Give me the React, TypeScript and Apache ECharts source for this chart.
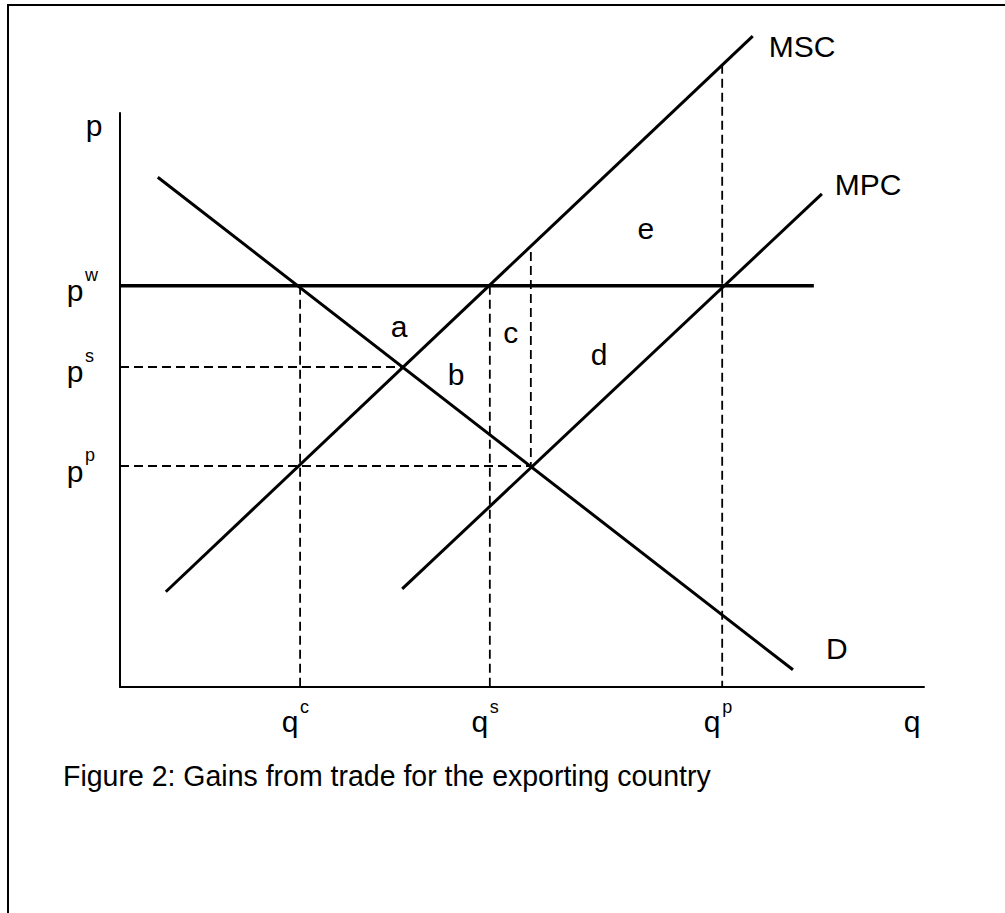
import React, { useEffect, useRef } from "react";
import * as echarts from "echarts";

// Axis extents (arbitrary quantity / price units)
const Q_MAX = 100;
const P_MAX = 100;

// Quantity and price levels
const quantityLevels = [22.4, 46.0, 51.1, 74.9]; // qc, qs, (gap line), qp
const priceLevels = [69.9, 55.75, 38.5]; // pw, ps, pp

// Curves (two end points each)
const demandCurve = [[4.7, 88.8], [83.7, 3.0]];
const mscCurve = [[5.7, 16.6], [78.7, 113.4]];
const mpcCurve = [[35.1, 17.1], [87.3, 85.9]];
const worldPrice = [[0, 69.9], [86.3, 69.9]];

// Dashed guide segments
const guides = [
  [[22.4, 69.9], [22.4, 0]],
  [[46.0, 69.9], [46.0, 0]],
  [[51.1, 75.8], [51.1, 38.5]],
  [[74.9, 108.4], [74.9, 0]],
  [[0, 55.75], [35.2, 55.75]],
  [[0, 38.5], [51.1, 38.5]],
];

// Labels
const pLabels = [
  { base: "p", sup: "w" },
  { base: "p", sup: "s" },
  { base: "p", sup: "p" },
];
const qLabels = [
  { base: "q", sup: "c", idx: 0 },
  { base: "q", sup: "s", idx: 1 },
  { base: "q", sup: "p", idx: 3 },
];
const curveLabels = [
  { text: "MSC", q: 80.7, p: 111.6 },
  { text: "MPC", q: 88.9, p: 87.5 },
  { text: "D", q: 87.8, p: 6.7 },
];
const areaLabels = [
  { text: "a", q: 34.7, p: 62.8 },
  { text: "b", q: 41.8, p: 54.4 },
  { text: "c", q: 48.6, p: 61.8 },
  { text: "d", q: 59.6, p: 57.9 },
  { text: "e", q: 65.4, p: 79.9 },
];
const caption = "Figure 2: Gains from trade for the exporting country";

const FONT = '"Liberation Sans", Arial, sans-serif';

export default function App() {
  const ref = useRef<HTMLDivElement>(null);
  useEffect(() => {
    if (!ref.current) return;
    const chart = echarts.init(ref.current, null, { renderer: "svg" });

    const lineSeries = (data: number[][], width: number, dashed = false) => ({
      type: "line",
      data,
      symbol: "none",
      clip: false,
      silent: true,
      z: dashed ? 2 : 3,
      lineStyle: {
        color: "#000",
        width,
        type: dashed ? [9, 5] : "solid",
        cap: "butt",
      },
    });

    const axisCommon = {
      type: "value",
      axisLine: { show: true, onZero: false, lineStyle: { color: "#000", width: 2 } },
      axisTick: { show: false },
      axisLabel: { show: false },
      splitLine: { show: false },
    };

    chart.setOption({
      animation: false,
      backgroundColor: "#fff",
      grid: { left: 120, top: 113, right: 81, bottom: 226 },
      xAxis: { ...axisCommon, min: 0, max: Q_MAX },
      yAxis: { ...axisCommon, min: 0, max: P_MAX },
      series: [
        lineSeries(demandCurve, 3),
        lineSeries(mscCurve, 3),
        lineSeries(mpcCurve, 3),
        lineSeries(worldPrice, 3.5),
        ...guides.map((g) => lineSeries(g, 1.8, true)),
      ],
    });

    const px = (q: number, p: number) =>
      chart.convertToPixel({ gridIndex: 0 }, [q, p]) as number[];

    const text = (
      t: string,
      x: number,
      y: number,
      size: number,
      align = "center",
      extra: any = {}
    ) => ({
      type: "text",
      x,
      y,
      z: 10,
      silent: true,
      ...extra,
      style: {
        text: t,
        fontSize: size,
        fontFamily: FONT,
        fill: "#000",
        align,
        verticalAlign: "middle",
      },
    });

    const els: any[] = [];
    // frame
    els.push({
      type: "rect",
      shape: { x: 8, y: 5, width: 1300, height: 1300 },
      style: { fill: "none", stroke: "#000", lineWidth: 2 },
      z: 10,
      silent: true,
    });
    const origin = px(0, 0);
    const top = px(0, P_MAX);
    const right = px(Q_MAX, 0);
    // axis titles
    els.push(text("p", top[0] - 26, top[1] + 12, 30));
    els.push(text("q", right[0] - 12, origin[1] + 34, 30));
    // price labels
    pLabels.forEach((l, i) => {
      const y = px(0, priceLevels[i])[1];
      els.push(text(l.base, origin[0] - 45, y + 5, 30));
      els.push(text(l.sup, origin[0] - 35, y - 11, 18, "left"));
    });
    // quantity labels
    qLabels.forEach((l) => {
      const x = px(quantityLevels[l.idx], 0)[0];
      els.push(text(l.base, x - 10, origin[1] + 34, 30));
      els.push(text(l.sup, x, origin[1] + 20, 18, "left"));
    });
    curveLabels.forEach((l) => {
      const [x, y] = px(l.q, l.p);
      els.push(text(l.text, x, y, 30, "left"));
    });
    areaLabels.forEach((l) => {
      const [x, y] = px(l.q, l.p);
      els.push(text(l.text, x, y, 30));
    });
    els.push(text(caption, 60, 776, 30, "left", { scaleX: 0.95, originX: 60, originY: 776 }));

    chart.setOption({ graphic: { elements: els } });

    return () => chart.dispose();
  }, []);
  return (
    <div
      ref={ref}
      style={{ position: "absolute", left: 0, top: 0, width: 1005, height: 913, background: "#fff" }}
    />
  );
}
